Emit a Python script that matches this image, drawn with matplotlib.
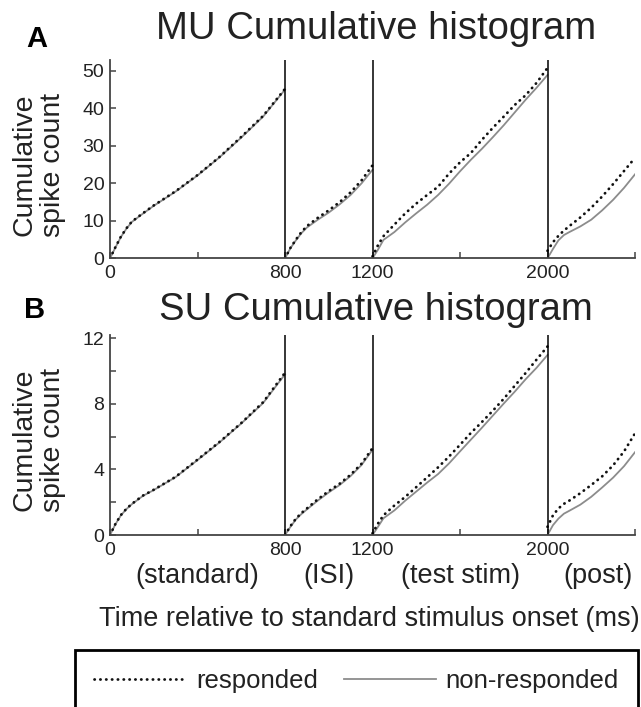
import matplotlib
matplotlib.use("Agg")
import matplotlib.pyplot as plt
import matplotlib.transforms as mtransforms

plt.rcParams['font.family'] = ['Liberation Sans', 'DejaVu Sans']
narrow = ['Liberation Sans Narrow', 'Liberation Sans', 'DejaVu Sans']

# time grids for each period (ms)
t_std = [0, 25, 50, 75, 100, 150, 200, 300, 400, 500, 600, 700, 800]
t_isi = [800, 825, 850, 875, 900, 950, 1000, 1050, 1100, 1150, 1200]
t_test = [1200, 1225, 1250, 1300, 1350, 1400, 1450, 1500, 1550, 1600, 1650,
          1700, 1750, 1800, 1850, 1900, 1950, 2000]
t_post = [2000, 2025, 2050, 2075, 2100, 2150, 2200, 2250, 2300, 2350, 2400]

# MU cumulative counts
mu_std_resp = [0, 3.0, 5.8, 8.0, 9.8, 12.0, 14.1, 17.9, 22.2, 27.0, 32.4, 38.0, 45.2]
mu_std_non = [0, 2.9, 5.7, 7.9, 9.7, 11.9, 14.0, 17.8, 22.1, 26.9, 32.2, 37.8, 45.0]
mu_isi_resp = [0, 2.8, 5.0, 7.0, 8.6, 10.8, 12.8, 15.0, 17.6, 20.8, 24.8]
mu_isi_non = [0, 2.7, 4.8, 6.7, 8.2, 10.3, 12.2, 14.4, 16.9, 20.0, 23.6]
mu_test_resp = [0.5, 3.5, 5.9, 9.0, 12.0, 14.6, 16.9, 19.1, 22.6, 25.6, 28.1,
                31.6, 34.8, 37.8, 40.9, 43.5, 46.8, 50.8]
mu_test_non = [0, 2.3, 4.9, 7.0, 9.6, 12.0, 14.3, 16.9, 19.9, 23.2, 26.3,
               29.2, 32.3, 35.5, 38.9, 42.3, 45.5, 48.9]
mu_post_resp = [2.0, 4.3, 6.0, 7.4, 8.6, 10.9, 13.5, 16.5, 19.8, 23.3, 26.8]
mu_post_non = [0, 2.5, 4.8, 6.2, 7.0, 8.5, 10.3, 12.8, 15.6, 18.8, 22.4]

# SU cumulative counts
su_std_resp = [0, 0.68, 1.22, 1.6, 1.9, 2.4, 2.76, 3.55, 4.6, 5.67, 6.83, 8.1, 9.9]
su_std_non = [0, 0.66, 1.2, 1.58, 1.88, 2.38, 2.74, 3.53, 4.57, 5.64, 6.8, 8.05, 9.8]
su_isi_resp = [0, 0.55, 1.0, 1.34, 1.62, 2.18, 2.68, 3.13, 3.68, 4.35, 5.3]
su_isi_non = [0, 0.5, 0.95, 1.28, 1.56, 2.1, 2.6, 3.05, 3.6, 4.27, 5.2]
su_test_resp = [0.1, 0.7, 1.2, 1.8, 2.33, 2.92, 3.52, 4.13, 4.79, 5.5, 6.23,
                6.89, 7.58, 8.31, 9.1, 9.88, 10.7, 11.5]
su_test_non = [0, 0.5, 1.02, 1.5, 2.1, 2.65, 3.2, 3.72, 4.37, 5.1, 5.82,
               6.54, 7.28, 8.02, 8.74, 9.5, 10.2, 10.98]
su_post_resp = [0.5, 1.2, 1.62, 1.9, 2.1, 2.55, 3.05, 3.58, 4.25, 5.1, 6.2]
su_post_non = [0, 0.6, 1.0, 1.3, 1.48, 1.85, 2.33, 2.9, 3.5, 4.2, 5.05]

bounds = [0, 800, 1200, 2000, 2400]
periods = ['(standard)', '(ISI)', '(test stim)', '(post)']
xticks = [0, 400, 800, 1200, 1600, 2000, 2400]
xticklabels = ['0', '', '800', '1200', '', '2000', '']

W, H = 641, 707
fig = plt.figure(figsize=(W / 100, H / 100), dpi=100)

dot_style = dict(color='#111111', lw=2.0, linestyle=(0, (0.1, 2.0)),
                 dash_capstyle='round')
gray_style = dict(color='#8c8c8c', lw=1.3)


def panel(rect, ymax, yticks, yticklabels, t_sets, resp_sets, non_sets):
    ax = fig.add_axes(rect)
    for t, r, n in zip(t_sets, resp_sets, non_sets):
        hn, = ax.plot(t, n, **gray_style)
        hr, = ax.plot(t, r, **dot_style)
    for b in bounds[1:-1]:
        ax.axvline(b, color='black', lw=1.1)
    ax.set_xlim(bounds[0], bounds[-1])
    ax.set_ylim(0, ymax)
    ax.set_xticks(xticks)
    ax.set_xticklabels(xticklabels, family=narrow, fontsize=14)
    ax.set_yticks(yticks)
    ax.set_yticklabels(yticklabels, family=narrow, fontsize=14)
    ax.tick_params(direction='in', length=4, width=1.1, color='#444444',
                   labelcolor='#222222')
    ax.tick_params(axis='x', pad=5)
    ax.tick_params(axis='y', pad=4)
    for s in ['top', 'right']:
        ax.spines[s].set_visible(False)
    for s in ['left', 'bottom']:
        ax.spines[s].set_color('#444444')
        ax.spines[s].set_linewidth(1.3)
    ax.patch.set_alpha(0)
    return ax, hr, hn


axA, hr, hn = panel([110 / W, 1 - 258.3 / H, 525 / W, 198.3 / H], 52.9,
                    [0, 10, 20, 30, 40, 50], ['0', '10', '20', '30', '40', '50'],
                    [t_std, t_isi, t_test, t_post],
                    [mu_std_resp, mu_isi_resp, mu_test_resp, mu_post_resp],
                    [mu_std_non, mu_isi_non, mu_test_non, mu_post_non])
axB, _, _ = panel([110 / W, 1 - 535 / H, 525 / W, 200 / H], 12.2,
                  [0, 2, 4, 6, 8, 10, 12], ['0', '', '4', '', '8', '', '12'],
                  [t_std, t_isi, t_test, t_post],
                  [su_std_resp, su_isi_resp, su_test_resp, su_post_resp],
                  [su_std_non, su_isi_non, su_test_non, su_post_non])

txt = '#222222'
fig.text(376 / W, 1 - 39 / H, 'MU Cumulative histogram', ha='center',
         va='baseline', fontsize=27.5, color=txt)
fig.text(376 / W, 1 - 320 / H, 'SU Cumulative histogram', ha='center',
         va='baseline', fontsize=27.5, color=txt)
fig.text(26 / W, 1 - 47 / H, 'A', fontsize=21, weight='bold', va='baseline')
fig.text(24 / W, 1 - 318 / H, 'B', fontsize=21, weight='bold', va='baseline')
for yc in [165, 440]:
    fig.text(39 / W, 1 - yc / H, 'Cumulative\nspike count', rotation=90,
             ha='center', va='center', multialignment='center', fontsize=20.5,
             color=txt, linespacing=1.15)

tr = mtransforms.blended_transform_factory(axB.transData, fig.transFigure)
for lo, hi, name in zip(bounds[:-1], bounds[1:], periods):
    xc = (lo + hi) / 2 + (30 if name == '(post)' else 0)
    fig.text(xc, 1 - 576 / H, name, transform=tr, ha='center',
             va='center', fontsize=19.5, color=txt)
fig.text(369 / W, 1 - 619 / H, 'Time relative to standard stimulus onset (ms)',
         ha='center', va='center', fontsize=19.5, color=txt)

leg = fig.legend([hr, hn], ['responded', 'non-responded'], loc='upper left',
                 bbox_to_anchor=(75 / W, 1 - 650 / H, 563 / W, 0), mode='expand',
                 ncol=2, fontsize=18.5, handlelength=3.6, handletextpad=0.35,
                 borderpad=0.75, borderaxespad=0, fancybox=False, framealpha=1,
                 edgecolor='black')
leg.get_frame().set_linewidth(2)
for t in leg.get_texts():
    t.set_color(txt)

fig.savefig('out.png', dpi=100)
